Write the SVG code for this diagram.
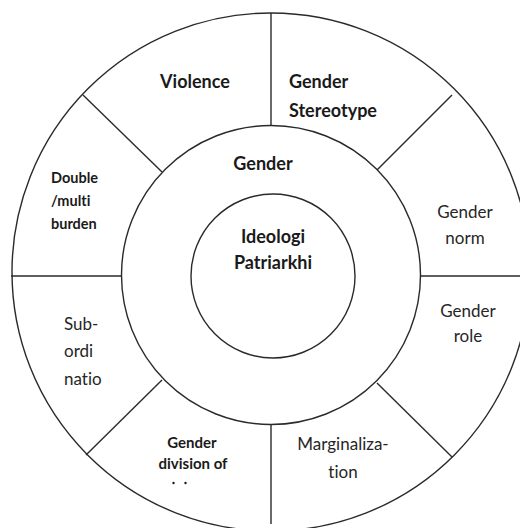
<svg xmlns="http://www.w3.org/2000/svg" width="520" height="528" viewBox="0 0 520 528">
<style>
.ring{fill:none;stroke:#2a2a2a;stroke-width:1.4}
.ln{stroke:#2a2a2a;stroke-width:1.4;fill:none}
text{font-variant-ligatures:none;font-feature-settings:"liga" 0}
.b{font-family:Lato,"Open Sans","Liberation Sans",sans-serif;font-weight:bold;fill:#1a1a1a}
.r{font-family:Lato,"Open Sans","Liberation Sans",sans-serif;font-weight:normal;fill:#262626;font-size:17px}
.big{font-size:18px}
.sm{font-size:14.5px}
</style>
<rect x="0" y="0" width="520" height="528" fill="#ffffff"/>
<g id="outer-ring"><circle class="ring" cx="271" cy="272" r="259"/></g>
<g id="gender-ring"><circle class="ring" cx="271" cy="275" r="149.5"/></g>
<g id="ideologi-core"><circle class="ring" cx="273" cy="276" r="82"/>
<text class="b big" x="273" y="243" text-anchor="middle">Ideologi</text>
<text class="b big" x="273" y="269" text-anchor="middle">Patriarkhi</text></g>
<g id="connectors">
<line class="ln" x1="271" y1="13" x2="271" y2="125.5"/>
<line class="ln" x1="271" y1="424.5" x2="271" y2="524"/>
<line class="ln" x1="11" y1="276" x2="121.5" y2="276"/>
<line class="ln" x1="420.5" y1="276" x2="520" y2="276"/>
<line class="ln" x1="83" y1="95" x2="162" y2="172"/>
<line class="ln" x1="452" y1="95" x2="377" y2="170"/>
<line class="ln" x1="162" y1="380" x2="86" y2="455"/>
<line class="ln" x1="377" y1="383" x2="452" y2="457"/>
</g>
<g id="gender-label"><text class="b big" x="263" y="170" text-anchor="middle">Gender</text></g>
<g id="violence"><text class="b big" x="195" y="88" text-anchor="middle">Violence</text></g>
<g id="gender-stereotype"><text class="b big" x="289" y="88">Gender</text><text class="b big" x="289" y="117">Stereotype</text></g>
<g id="gender-norm"><text class="r" x="465" y="218" text-anchor="middle">Gender</text><text class="r" x="465" y="244" text-anchor="middle">norm</text></g>
<g id="gender-role"><text class="r" x="468" y="317" text-anchor="middle">Gender</text><text class="r" x="468" y="342" text-anchor="middle">role</text></g>
<g id="marginalization"><text class="r" x="343" y="450" text-anchor="middle">Marginaliza-</text><text class="r" x="343" y="478" text-anchor="middle">tion</text></g>
<g id="gender-division"><text class="b" font-size="15" x="192" y="448" text-anchor="middle">Gender</text><text class="b" font-size="15" x="193" y="469" text-anchor="middle">division of</text>
<circle cx="173.5" cy="483" r="1.2" fill="#1a1a1a"/><circle cx="185.5" cy="483" r="1.2" fill="#1a1a1a"/></g>
<g id="subordination"><text class="r" x="64" y="330">Sub-</text><text class="r" x="64" y="357">ordi</text><text class="r" x="64" y="385">natio</text></g>
<g id="double-burden"><text class="b sm" x="51" y="183">Double</text><text class="b sm" x="51" y="206">/multi</text><text class="b sm" x="51" y="229">burden</text></g>
</svg>
